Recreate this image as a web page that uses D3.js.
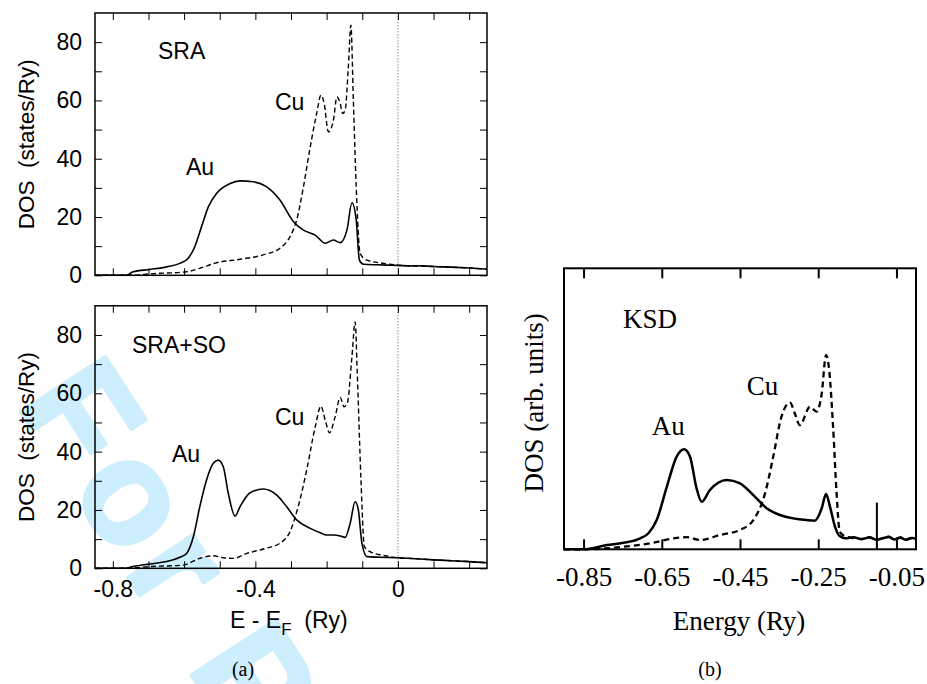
<!DOCTYPE html>
<html>
<head>
<meta charset="utf-8">
<script src="https://cdn.jsdelivr.net/npm/d3@7"></script>
<style>
  html, body { margin: 0; padding: 0; background: #fff; }
  svg { display: block; }
  text { white-space: pre; }
</style>
</head>
<body>
<svg id="chart" width="927" height="684"></svg>
<script>
// ---------------- DATA ----------------
// Panel (a), top: SRA
const sraAuE   = [-0.85,-0.762,-0.743,-0.696,-0.649,-0.612,-0.589,-0.570,-0.551,-0.532,-0.509,-0.471,-0.443,-0.406,-0.369,-0.331,-0.293,-0.265,-0.232,-0.204,-0.181,-0.162,-0.143,-0.129,-0.117,-0.108,-0.097,-0.06,-0.03,0,0.03,0.06,0.1,0.15,0.2,0.25];
const sraAuDos = [0,0,1.2,2.0,2.9,4.1,5.8,9.8,16.7,23.5,28.1,31.5,32.4,32.1,30.4,25.8,18.4,15.5,13.8,11.0,12.1,11.2,15.5,24.9,19.0,5.2,3.8,3.6,3.5,3.4,3.2,3.3,3.0,2.8,2.5,2.1];
const sraCuE   = [-0.85,-0.743,-0.696,-0.593,-0.556,-0.509,-0.443,-0.378,-0.331,-0.303,-0.284,-0.265,-0.246,-0.228,-0.216,-0.207,-0.195,-0.181,-0.171,-0.162,-0.155,-0.148,-0.139,-0.132,-0.125,-0.117,-0.106,-0.087,-0.04,0,0.03,0.06,0.1,0.15,0.2,0.25];
const sraCuDos = [0,0,0.5,1.2,2.4,4.3,5.5,7.0,9.3,13.2,19.0,30.4,44.1,55.5,61.8,59,49.2,53.2,61.2,59,55.5,56.7,71.5,85.8,60,30.4,7.5,5.2,4.1,3.5,3.3,3.2,3.0,2.8,2.5,2.1];

// Panel (a), bottom: SRA+SO
const soAuE   = [-0.85,-0.766,-0.743,-0.696,-0.649,-0.612,-0.593,-0.574,-0.556,-0.537,-0.518,-0.504,-0.490,-0.476,-0.457,-0.443,-0.415,-0.378,-0.340,-0.312,-0.284,-0.246,-0.218,-0.200,-0.181,-0.162,-0.148,-0.134,-0.120,-0.111,-0.101,-0.087,-0.05,0,0.05,0.1,0.15,0.2,0.25];
const soAuDos = [0,0,0.6,1.5,2.3,3.8,5.1,10.8,21.1,30.3,36.0,37.1,34.8,25.7,17.9,21.1,25.9,27.2,25.1,21.1,16.6,13.7,12.2,11.4,11.4,11.1,10.6,15.4,22.8,20.0,8.6,4.0,3.8,3.6,3.3,2.9,2.6,2.3,1.9];
const soCuE   = [-0.85,-0.766,-0.696,-0.603,-0.556,-0.518,-0.490,-0.462,-0.424,-0.369,-0.331,-0.303,-0.280,-0.256,-0.232,-0.216,-0.204,-0.192,-0.176,-0.162,-0.151,-0.142,-0.129,-0.120,-0.114,-0.104,-0.094,-0.078,-0.031,0,0.05,0.1,0.15,0.2,0.25];
const soCuDos = [0,0,0.6,1.1,3.4,4.3,3.6,3.4,5.1,6.9,8.6,12.5,21.1,33.7,48.5,55.6,50.8,46.5,52.0,58.6,55.4,56.6,72.5,84.5,66.8,31.4,7.4,5.7,4.2,3.6,3.3,2.9,2.6,2.3,1.9];

// Panel (b): KSD (arbitrary units)
const ksdAuE   = [-0.9,-0.85,-0.790,-0.748,-0.705,-0.684,-0.663,-0.637,-0.612,-0.593,-0.578,-0.561,-0.548,-0.527,-0.484,-0.450,-0.416,-0.382,-0.348,-0.314,-0.280,-0.259,-0.241,-0.230,-0.220,-0.207,-0.195,-0.18,-0.16,-0.14,-0.12,-0.10,-0.085,-0.07,-0.055,-0.04,-0.025,-0.01,0];
const ksdAuDos = [0,0,1.5,2.3,3.9,5.7,10.4,22.3,33.0,35.6,33.0,21.7,16.9,21.1,24.7,23.5,19.3,14.6,12.2,11.0,10.4,10.2,14.6,19.7,15.2,8.0,4.7,3.9,4.3,3.6,4.2,3.4,3.9,4.4,3.5,4.1,3.4,4.0,3.7];
const ksdCuE   = [-0.9,-0.85,-0.748,-0.680,-0.620,-0.586,-0.552,-0.501,-0.450,-0.416,-0.386,-0.365,-0.344,-0.322,-0.310,-0.297,-0.271,-0.254,-0.241,-0.230,-0.222,-0.212,-0.203,-0.195,-0.182,-0.16,-0.14,-0.12,-0.10,-0.085,-0.07,-0.055,-0.04,-0.025,-0.01,0];
const ksdCuDos = [0,0,0.9,2.1,3.9,4.3,3.3,5.1,6.9,10.4,19.9,33.0,47.2,52.2,48.4,44.2,50.7,49.0,55.5,69.1,63.8,43.6,19.9,6.3,4.7,4.0,3.7,4.3,3.5,4.0,4.5,3.6,4.2,3.5,4.1,3.8];
const ksdFermiE = -0.1;      // vertical marker in (b)
const ksdFermiMark = 16.6;   // marker height (arb. units)

// Ticks
const aXTicks = [-0.8,-0.7,-0.6,-0.5,-0.4,-0.3,-0.2,-0.1,0,0.1,0.2];
const aXLabels = ["-0.8","-0.4","0"];
const aYTicks = [0,10,20,30,40,50,60,70,80];
const aYLabels = ["0","20","40","60","80"];
const bXTicks = [-0.85,-0.65,-0.45,-0.25,-0.05];
const bXLabels = ["-0.85","-0.65","-0.45","-0.25","-0.05"];

// ---------------- DRAWING ----------------
const svg = d3.select("#chart");
const sans = "'Liberation Sans', Arial, Helvetica, sans-serif";
const serif = "'Liberation Serif', 'Times New Roman', serif";

// Watermark (clipped by the page edge, as in the original)
svg.append("text")
  .attr("transform", "translate(16,404) rotate(57)")
  .attr("font-family", sans).attr("font-weight", "bold")
  .attr("font-size", 145).attr("letter-spacing", 10)
  .attr("fill", "#cdeefc").attr("stroke", "#cdeefc").attr("stroke-width", 5)
  .attr("stroke-linejoin", "round")
  .text("For Pe");

function zip(E, D) { return E.map((e, i) => [e, D[i]]); }

// ---- Panel (a) ----
const xA = d3.scaleLinear().domain([-0.85, 0.25]).range([95, 487]);
const yTop = d3.scaleLinear().domain([0, 90]).range([275.3, 13]);
const yBot = d3.scaleLinear().domain([0, 90]).range([568.3, 305.8]);

function labelX(d) {
  const s = Math.abs(d) < 1e-9 ? "0" : d.toFixed(1);
  return aXLabels.includes(s) ? s : "";
}
function labelY(d) { const s = String(d); return aYLabels.includes(s) ? s : ""; }

function panelA(y, auE, auD, cuE, cuD, showXLabels, title, titlePos, cuPos, auPos) {
  const g = svg.append("g");
  const [x0, x1] = xA.range();
  const [yb, yt] = y.range();

  // Fermi level dotted line
  g.append("line")
    .attr("x1", xA(0)).attr("x2", xA(0)).attr("y1", yb).attr("y2", yt)
    .attr("stroke", "#555").attr("stroke-width", 1).attr("stroke-dasharray", "1,2");

  const line = d3.line().x(d => xA(d[0])).y(d => y(d[1])).curve(d3.curveMonotoneX);
  g.append("path").datum(zip(cuE, cuD)).attr("d", line)
    .attr("fill", "none").attr("stroke", "#000").attr("stroke-width", 1.4).attr("stroke-dasharray", "5,3");
  g.append("path").datum(zip(auE, auD)).attr("d", line)
    .attr("fill", "none").attr("stroke", "#000").attr("stroke-width", 1.6);

  // axes (inward ticks on all four sides)
  const bottom = g.append("g").attr("transform", `translate(0,${yb})`)
    .call(d3.axisBottom(xA).tickValues(aXTicks).tickSize(-7).tickPadding(12)
      .tickFormat(showXLabels ? labelX : () => ""));
  const top = g.append("g").attr("transform", `translate(0,${yt})`)
    .call(d3.axisTop(xA).tickValues(aXTicks).tickSize(-7).tickFormat(() => ""));
  const left = g.append("g").attr("transform", `translate(${x0},0)`)
    .call(d3.axisLeft(y).tickValues(aYTicks).tickSize(-7).tickPadding(13).tickFormat(labelY));
  const right = g.append("g").attr("transform", `translate(${x1},0)`)
    .call(d3.axisRight(y).tickValues(aYTicks).tickSize(-7).tickFormat(() => ""));
  [bottom, top, left, right].forEach(a => {
    a.select(".domain").remove();
    a.selectAll("line").attr("stroke", "#000").attr("stroke-width", 1);
    a.selectAll("text").attr("font-family", sans).attr("font-size", 23).attr("fill", "#000");
  });

  g.append("rect").attr("x", x0).attr("y", yt).attr("width", x1 - x0).attr("height", yb - yt)
    .attr("fill", "none").attr("stroke", "#000").attr("stroke-width", 1.5);

  // Y label
  g.append("text")
    .attr("transform", `translate(33.5,${(yb + yt) / 2}) rotate(-90)`)
    .attr("text-anchor", "middle").attr("font-family", sans).attr("font-size", 22.5)
    .text("DOS  (states/Ry)");

  const lab = (t, p) => g.append("text").attr("x", p[0]).attr("y", p[1])
    .attr("font-family", sans).attr("font-size", 23).text(t);
  lab(title, titlePos); lab("Cu", cuPos); lab("Au", auPos);
}

panelA(yTop, sraAuE, sraAuDos, sraCuE, sraCuDos, false, "SRA", [158, 59], [275, 110], [186, 175]);
panelA(yBot, soAuE, soAuDos, soCuE, soCuDos, true, "SRA+SO", [132, 353.3], [275, 425], [172, 461.7]);

// x label (a)
const xl = svg.append("text").attr("x", 230).attr("y", 628)
  .attr("font-family", sans).attr("font-size", 23);
xl.append("tspan").text("E - E");
xl.append("tspan").attr("font-size", 17).attr("dy", 7).text("F");
xl.append("tspan").attr("dy", -7).text("  (Ry)");

svg.append("text").attr("x", 243).attr("y", 676).attr("text-anchor", "middle")
  .attr("font-family", serif).attr("font-size", 20).text("(a)");

// ---- Panel (b) ----
const xB = d3.scaleLinear().domain([-0.9, 0]).range([564, 916]);
const yB = d3.scaleLinear().domain([0, 100]).range([549.3, 268.3]);
{
  const g = svg.append("g");
  const [x0, x1] = xB.range();
  const [yb, yt] = yB.range();
  const line = d3.line().x(d => xB(d[0])).y(d => yB(d[1])).curve(d3.curveMonotoneX);

  g.append("path").datum(zip(ksdCuE, ksdCuDos)).attr("d", line)
    .attr("fill", "none").attr("stroke", "#000").attr("stroke-width", 2.3).attr("stroke-dasharray", "6,4");
  g.append("path").datum(zip(ksdAuE, ksdAuDos)).attr("d", line)
    .attr("fill", "none").attr("stroke", "#000").attr("stroke-width", 2.5);

  g.append("line").attr("x1", xB(ksdFermiE)).attr("x2", xB(ksdFermiE))
    .attr("y1", yB(0)).attr("y2", yB(ksdFermiMark)).attr("stroke", "#000").attr("stroke-width", 2);

  const bottom = g.append("g").attr("transform", `translate(0,${yb})`)
    .call(d3.axisBottom(xB).tickValues(bXTicks).tickSize(-10).tickPadding(18)
      .tickFormat((d, i) => bXLabels[i]));
  const top = g.append("g").attr("transform", `translate(0,${yt})`)
    .call(d3.axisTop(xB).tickValues(bXTicks).tickSize(-10).tickFormat(() => ""));
  [bottom, top].forEach(a => {
    a.select(".domain").remove();
    a.selectAll("line").attr("stroke", "#000").attr("stroke-width", 2);
    a.selectAll("text").attr("font-family", serif).attr("font-size", 27).attr("fill", "#000");
  });

  g.append("rect").attr("x", x0).attr("y", yt).attr("width", x1 - x0).attr("height", yb - yt)
    .attr("fill", "none").attr("stroke", "#000").attr("stroke-width", 2);

  g.append("text")
    .attr("transform", `translate(543,${(yb + yt) / 2 - 6}) rotate(-90)`)
    .attr("text-anchor", "middle").attr("font-family", serif).attr("font-size", 27)
    .text("DOS (arb. units)");

  g.append("text").attr("x", 739).attr("y", 630).attr("text-anchor", "middle")
    .attr("font-family", serif).attr("font-size", 27).text("Energy (Ry)");

  const lab = (t, p) => g.append("text").attr("x", p[0]).attr("y", p[1])
    .attr("font-family", serif).attr("font-size", 27).text(t);
  lab("KSD", [623, 328]); lab("Cu", [746.7, 395]); lab("Au", [651.7, 435]);

  svg.append("text").attr("x", 710).attr("y", 676).attr("text-anchor", "middle")
    .attr("font-family", serif).attr("font-size", 20).text("(b)");
}
</script>
</body>
</html>
